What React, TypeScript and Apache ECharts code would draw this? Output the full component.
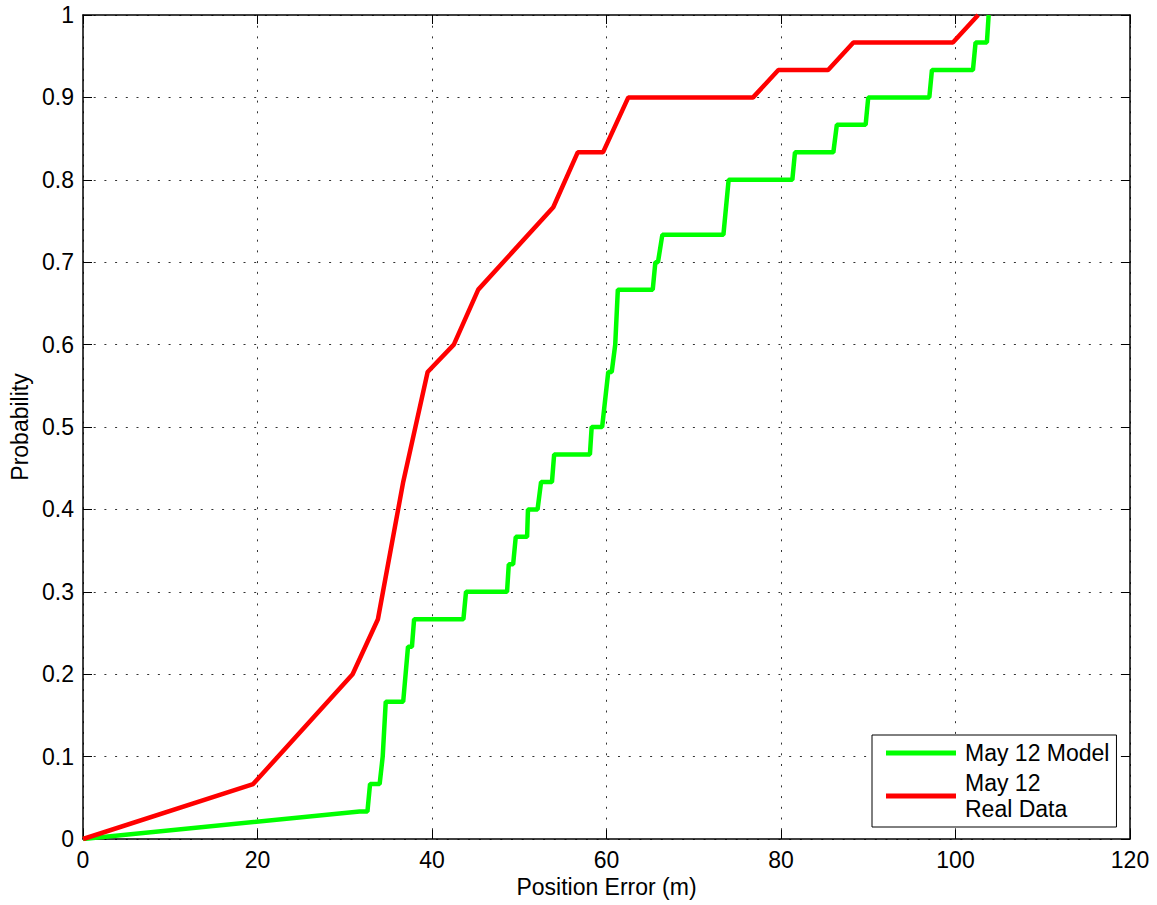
import React, { useEffect, useRef } from "react";
import * as echarts from "echarts";

const modelName = "May 12 Model";
const realName = "May 12\nReal Data";

const modelX = [0, 31.7, 32.6, 32.9, 34.0, 34.35, 34.7, 36.7, 37.25, 37.7, 37.95, 43.6, 43.9, 48.6, 48.8, 49.3, 49.6, 50.9, 51.0, 52.1, 52.5, 53.75, 54.0, 58.1, 58.3, 59.5, 60.2, 60.6, 61.0, 61.3, 65.3, 65.6, 65.9, 66.4, 73.4, 74.0, 81.3, 81.6, 86.0, 86.4, 89.7, 90.0, 97.0, 97.3, 102.0, 102.3, 103.6, 103.8];
const modelY = [0, 0.0333, 0.0333, 0.0667, 0.0667, 0.1, 0.1667, 0.1667, 0.2333, 0.2333, 0.2667, 0.2667, 0.3, 0.3, 0.3333, 0.3333, 0.3667, 0.3667, 0.4, 0.4, 0.4333, 0.4333, 0.4667, 0.4667, 0.5, 0.5, 0.5667, 0.5667, 0.6, 0.6667, 0.6667, 0.7, 0.7, 0.7333, 0.7333, 0.8, 0.8, 0.8333, 0.8333, 0.8667, 0.8667, 0.9, 0.9, 0.9333, 0.9333, 0.9667, 0.9667, 1.0];

const realX = [0, 19.5, 30.9, 33.8, 36.7, 39.5, 42.5, 45.3, 53.9, 56.7, 59.6, 62.5, 76.8, 79.7, 85.4, 88.3, 99.7, 102.6];
const realY = [0, 0.0667, 0.2, 0.2667, 0.4333, 0.5667, 0.6, 0.6667, 0.7667, 0.8333, 0.8333, 0.9, 0.9, 0.9333, 0.9333, 0.9667, 0.9667, 1.0];

const xTicks = { min: 0, max: 120, interval: 20 };
const yTicks = { min: 0, max: 1, interval: 0.1 };

const FONT = "'Liberation Sans', Arial, Helvetica, sans-serif";
const FS = 23;

export default function App() {
  const ref = useRef<HTMLDivElement>(null);
  useEffect(() => {
    if (!ref.current) return;
    const chart = echarts.init(ref.current, null, { renderer: "svg" });
    const zip = (xs: number[], ys: number[]) => xs.map((x, i) => [x, ys[i]]);
    const axisLine = { show: true, onZero: false, lineStyle: { color: "#000", width: 1.5 } };
    const axisTick = { show: true, inside: true, length: 9, lineStyle: { color: "#000", width: 1 } };
    const splitLine = { show: true, lineStyle: { color: "#333", width: 1, type: [2, 8.7] } };
    const fmtY = (v: number) => String(Math.round(v * 10) / 10);
    chart.setOption({
      animation: false,
      backgroundColor: "#fff",
      textStyle: { fontFamily: FONT },
      grid: { left: 83, right: 27, top: 15, bottom: 66, containLabel: false },
      xAxis: [
        {
          type: "value", position: "bottom", ...xTicks,
          axisLine, axisTick, splitLine,
          axisLabel: { show: true, fontSize: FS, color: "#000", fontFamily: FONT, margin: 9 },
          name: "Position Error (m)", nameLocation: "middle", nameGap: 36,
          nameTextStyle: { fontSize: FS, color: "#000", fontFamily: FONT },
        },
        {
          type: "value", position: "top", ...xTicks,
          axisLine, axisTick, splitLine: { show: false }, axisLabel: { show: false },
        },
      ],
      yAxis: [
        {
          type: "value", position: "left", ...yTicks,
          axisLine, axisTick, splitLine,
          axisLabel: { show: true, fontSize: FS, color: "#000", fontFamily: FONT, margin: 9, formatter: fmtY },
          name: "Probability", nameLocation: "middle", nameGap: 52,
          nameTextStyle: { fontSize: FS, color: "#000", fontFamily: FONT },
        },
        {
          type: "value", position: "right", ...yTicks,
          axisLine, axisTick, splitLine: { show: false }, axisLabel: { show: false },
        },
      ],
      legend: {
        orient: "vertical",
        left: 872,
        top: 735,
        padding: [5, 7, 5, 14],
        itemWidth: 70,
        itemHeight: 5,
        itemGap: 4,
        icon: "rect",
        backgroundColor: "#fff",
        borderColor: "#000",
        borderWidth: 1,
        borderRadius: 0,
        textStyle: { fontSize: FS, color: "#000", fontFamily: FONT, lineHeight: 26, padding: [0, 0, 0, 4] },
        data: [modelName, realName],
      },
      series: [
        {
          name: modelName, type: "line", xAxisIndex: 0, yAxisIndex: 0,
          data: zip(modelX, modelY), showSymbol: false, symbol: "none",
          lineStyle: { color: "#00ff00", width: 4.5 }, itemStyle: { color: "#00ff00" },
          z: 3,
        },
        {
          name: realName, type: "line", xAxisIndex: 0, yAxisIndex: 0,
          data: zip(realX, realY), showSymbol: false, symbol: "none",
          lineStyle: { color: "#ff0000", width: 4.5 }, itemStyle: { color: "#ff0000" },
          z: 4,
        },
      ],
    });
    return () => chart.dispose();
  }, []);
  return (
    <div
      ref={ref}
      style={{ position: "fixed", left: 0, top: 0, width: 1157, height: 905, background: "#fff" }}
    />
  );
}
